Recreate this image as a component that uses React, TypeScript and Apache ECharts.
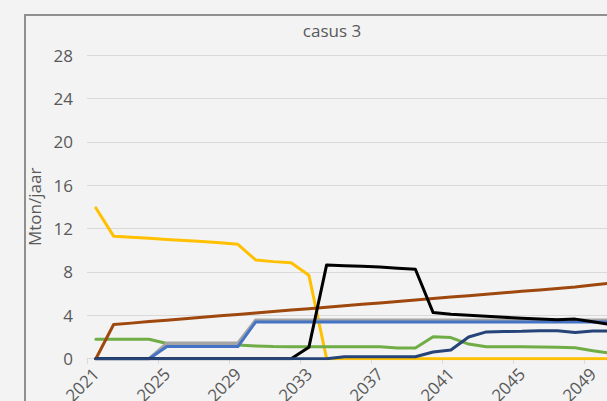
import React, { useEffect, useRef } from 'react';
import * as echarts from 'echarts';

const years = [
  '2021', '2022', '2023', '2024', '2025', '2026', '2027', '2028', '2029', '2030',
  '2031', '2032', '2033', '2034', '2035', '2036', '2037', '2038', '2039', '2040',
  '2041', '2042', '2043', '2044', '2045', '2046', '2047', '2048', '2049', '2050',
];

const yellowSeries = [13.9, 11.3, 11.2, 11.1, 11.0, 10.9, 10.8, 10.7, 10.55, 9.1,
  8.95, 8.85, 7.7, 0, 0, 0, 0, 0, 0, 0,
  0, 0, 0, 0, 0, 0, 0, 0, 0, 0];
const greenSeries = [1.8, 1.8, 1.8, 1.8, 1.4, 1.38, 1.36, 1.33, 1.26, 1.18,
  1.12, 1.1, 1.1, 1.1, 1.1, 1.1, 1.1, 0.98, 0.98, 2.03,
  1.95, 1.35, 1.1, 1.1, 1.1, 1.08, 1.05, 1.0, 0.74, 0.5];
const greySeries = [0, 0, 0, 0, 1.42, 1.42, 1.42, 1.42, 1.42, 3.55,
  3.55, 3.55, 3.55, 3.55, 3.55, 3.55, 3.55, 3.55, 3.55, 3.55,
  3.55, 3.55, 3.55, 3.55, 3.55, 3.55, 3.55, 3.55, 3.55, 3.55];
const blueSeries = [0, 0, 0, 0, 1.12, 1.12, 1.12, 1.12, 1.12, 3.38,
  3.38, 3.38, 3.38, 3.38, 3.38, 3.38, 3.38, 3.38, 3.38, 3.38,
  3.38, 3.38, 3.38, 3.38, 3.38, 3.38, 3.38, 3.38, 3.38, 3.38];
const brownSeries = [0, 3.15, 3.28, 3.42, 3.55, 3.68, 3.82, 3.95, 4.08, 4.21,
  4.35, 4.48, 4.61, 4.75, 4.88, 5.01, 5.14, 5.28, 5.41, 5.54,
  5.68, 5.81, 5.94, 6.07, 6.21, 6.34, 6.47, 6.6, 6.8, 6.98];
const blackSeries = [0, 0, 0, 0, 0, 0, 0, 0, 0, 0,
  0, 0, 1.05, 8.65, 8.58, 8.52, 8.45, 8.35, 8.25, 4.25,
  4.1, 4.0, 3.92, 3.82, 3.72, 3.65, 3.6, 3.65, 3.4, 3.15];
const darkBlueSeries = [0, 0, 0, 0, 0, 0, 0, 0, 0, 0,
  0, 0, 0, 0, 0.18, 0.18, 0.18, 0.18, 0.18, 0.62,
  0.8, 2.0, 2.47, 2.5, 2.52, 2.58, 2.58, 2.42, 2.56, 2.56];

const yTicks = { min: 0, max: 28, interval: 4 };

const FONT = 'Open Sans';
const TEXT = '#595959';

export default function App() {
  const ref = useRef<HTMLDivElement>(null);
  useEffect(() => {
    document.body.style.margin = '0';
    document.body.style.background = '#f3f3f3';
    const chart = echarts.init(ref.current!, null, { renderer: 'svg' });
    const mk = (name: string, data: number[], color: string, width = 3) => ({
      name,
      type: 'line',
      data,
      symbol: 'none',
      lineStyle: { color, width, cap: 'round', join: 'round' },
      itemStyle: { color },
    });
    chart.setOption({
      animation: false,
      backgroundColor: '#f3f3f3',
      textStyle: { fontFamily: FONT },
      graphic: [
        {
          type: 'rect',
          z: -10,
          shape: { x: 25, y: 15, width: 700, height: 500 },
          style: { fill: 'none', stroke: '#8f8f8f', lineWidth: 2 },
        },
        {
          type: 'text',
          x: 332,
          y: 30,
          style: {
            text: 'casus 3',
            fontFamily: FONT,
            fontSize: 17,
            fill: TEXT,
            textAlign: 'center',
            textVerticalAlign: 'middle',
          },
        },
      ],
      grid: {
        left: 87,
        top: 55,
        width: 532.5,
        height: 303.7,
        containLabel: false,
        outerBoundsMode: 'none',
      },
      xAxis: {
        type: 'category',
        data: years,
        boundaryGap: true,
        axisLine: { show: true, lineStyle: { color: '#d9d9d9', width: 1 } },
        axisTick: { show: true, interval: 3, length: 5, lineStyle: { color: '#d9d9d9' } },
        axisLabel: {
          interval: 3,
          rotate: 45,
          color: TEXT,
          fontSize: 17,
          fontFamily: FONT,
          margin: 12,
        },
      },
      yAxis: {
        type: 'value',
        min: yTicks.min,
        max: yTicks.max,
        interval: yTicks.interval,
        name: 'Mton/jaar',
        nameLocation: 'middle',
        nameGap: 42,
        nameTextStyle: { color: TEXT, fontSize: 17, fontFamily: FONT },
        axisLine: { show: false },
        axisTick: { show: false },
        axisLabel: { color: TEXT, fontSize: 17, fontFamily: FONT, margin: 14 },
        splitLine: { lineStyle: { color: '#d9d9d9', width: 1 } },
      },
      series: [
        mk('geel', yellowSeries, '#FFC000'),
        mk('groen', greenSeries, '#70AD47'),
        mk('grijs', greySeries, '#A5A5A5', 3.5),
        mk('blauw', blueSeries, '#4472C4'),
        mk('bruin', brownSeries, '#9E480E'),
        mk('zwart', blackSeries, '#000000'),
        mk('donkerblauw', darkBlueSeries, '#264478'),
      ],
    });
    return () => chart.dispose();
  }, []);
  return <div ref={ref} style={{ width: 607, height: 401 }} />;
}
